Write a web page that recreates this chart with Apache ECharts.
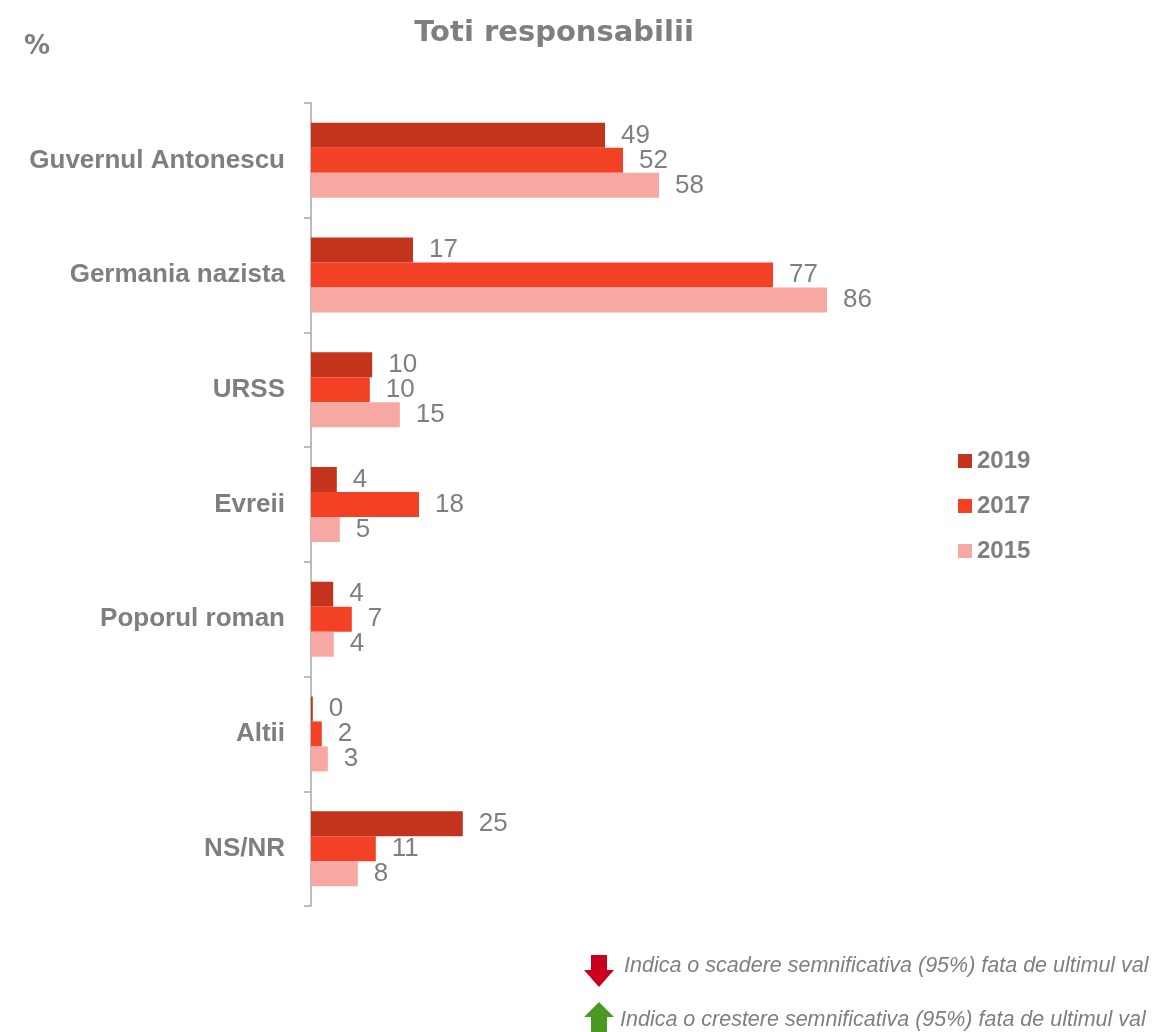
<!DOCTYPE html>
<html>
<head>
<meta charset="utf-8">
<script src="https://cdn.jsdelivr.net/npm/echarts@6/dist/echarts.min.js"></script>
<style>
  html, body { margin: 0; padding: 0; background: #fff; }
  #chart { width: 1152px; height: 1032px; }
</style>
</head>
<body>
<div id="chart"></div>
<script>
const categories = ["Guvernul Antonescu", "Germania nazista", "URSS", "Evreii", "Poporul roman", "Altii", "NS/NR"];
const years = ["2019", "2017", "2015"];
const values2019 = [49, 17, 10.2, 4.3, 3.7, 0.3, 25.3];
const values2017 = [52, 77, 9.8, 18, 6.8, 1.8, 10.8];
const values2015 = [58, 86, 14.8, 4.8, 3.8, 2.8, 7.8];
const colors = ["#C4341C", "#F24125", "#F7A8A2"];

const gray = "#7F7F7F";
const arial = "Liberation Sans, Arial";
const chart = echarts.init(document.getElementById("chart"));

function makeSeries(name, data, color) {
  return {
    name: name,
    type: "bar",
    data: data,
    barWidth: 25,
    barGap: "0%",
    itemStyle: { color: color },
    label: {
      show: true,
      position: "right",
      distance: 16,
      color: gray,
      fontSize: 26,
      fontFamily: arial,
      formatter: (p) => Math.round(p.value),
    },
  };
}

chart.setOption({
  animation: false,
  title: {
    text: "Toti responsabilii",
    left: 549,
    top: 14,
    textAlign: "center",
    textStyle: { color: gray, fontSize: 29, fontWeight: "bold", fontFamily: "DejaVu Sans" },
  },
  legend: {
    orient: "vertical",
    left: 953,
    top: 444,
    itemWidth: 14,
    itemHeight: 14,
    itemGap: 21,
    icon: "rect",
    textStyle: { color: gray, fontSize: 24, fontWeight: "bold", fontFamily: arial },
    data: years,
  },
  grid: { left: 311, right: 241, top: 103, bottom: 126 },
  xAxis: {
    type: "value",
    min: 0,
    max: 100,
    show: false,
  },
  yAxis: {
    type: "category",
    inverse: true,
    data: categories,
    axisLine: { show: true, lineStyle: { color: "#A6A6A6", width: 1.5 } },
    axisTick: { show: true, length: 7, lineStyle: { color: "#A6A6A6", width: 1.5 } },
    axisLabel: {
      color: gray,
      fontSize: 26,
      fontWeight: "bold",
      fontFamily: arial,
      margin: 26,
    },
  },
  series: [
    makeSeries(years[0], values2019, colors[0]),
    makeSeries(years[1], values2017, colors[1]),
    makeSeries(years[2], values2015, colors[2]),
  ],
  graphic: [
    {
      type: "text",
      left: 24,
      top: 34,
      style: { text: "%", fill: gray, font: "bold 26px DejaVu Sans" },
    },
    {
      type: "polygon",
      shape: { points: [[591, 955], [607, 955], [607, 970], [614, 970], [599, 987], [584, 970], [591, 970]] },
      style: { fill: "#C8001E" },
    },
    {
      type: "text",
      left: 624,
      top: 955,
      style: { text: "Indica o scadere semnificativa (95%) fata de ultimul val", fill: gray, font: "italic 21.5px Liberation Sans, Arial" },
    },
    {
      type: "polygon",
      shape: { points: [[599, 1002], [614, 1017], [607, 1017], [607, 1032], [591, 1032], [591, 1017], [584, 1017]] },
      style: { fill: "#4A9A22" },
    },
    {
      type: "text",
      left: 620,
      top: 1009,
      style: { text: "Indica o crestere semnificativa (95%) fata de ultimul val", fill: gray, font: "italic 21.5px Liberation Sans, Arial" },
    },
  ],
});
</script>
</body>
</html>
